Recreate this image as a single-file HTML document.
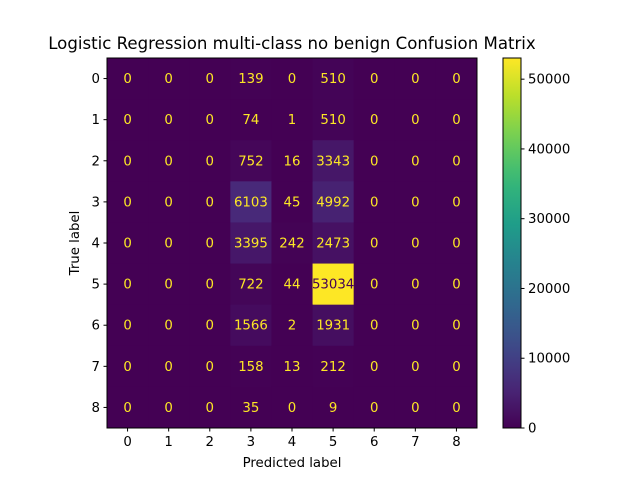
<!DOCTYPE html>
<html><head><meta charset="utf-8"><style>
body{margin:0;background:#fff;}
svg text{font-family:"DejaVu Sans","Liberation Sans",sans-serif;}
</style></head><body>
<svg id="c" width="640" height="480" xmlns="http://www.w3.org/2000/svg">
<defs><linearGradient id="vg" x1="0" y1="1" x2="0" y2="0"></linearGradient></defs>
</svg>
<script>
const labels = ["0","1","2","3","4","5","6","7","8"];
const matrix = [
[0,0,0,139,0,510,0,0,0],
[0,0,0,74,1,510,0,0,0],
[0,0,0,752,16,3343,0,0,0],
[0,0,0,6103,45,4992,0,0,0],
[0,0,0,3395,242,2473,0,0,0],
[0,0,0,722,44,53034,0,0,0],
[0,0,0,1566,2,1931,0,0,0],
[0,0,0,158,13,212,0,0,0],
[0,0,0,35,0,9,0,0,0]
];
const cbTicks = [0,10000,20000,30000,40000,50000];

const NS="http://www.w3.org/2000/svg";
const svg=document.getElementById('c');
function mk(t,a,p){const e=document.createElementNS(NS,t);for(const k in a)e.setAttribute(k,a[k]);(p||svg).appendChild(e);return e;}
const V=[[68,1,84],[72,40,120],[62,74,137],[49,104,142],[38,130,142],[31,158,137],[53,183,121],[110,206,88],[181,222,43],[253,231,37]];
function viridis(t){t=Math.max(0,Math.min(1,t));const f=t*9,i=Math.min(8,Math.floor(f)),r=f-i;const a=V[i],b=V[i+1];return `rgb(${a.map((v,k)=>Math.round(v+(b[k]-v)*r)).join(',')})`;}
const L=107,T=58,W=370,H=370,n=labels.length,cw=W/n,ch=H/n;
let mx=0;matrix.forEach(r=>r.forEach(v=>{if(v>mx)mx=v;}));
const xS=j=>L+cw*(j+0.5), yS=i=>T+ch*(i+0.5);
matrix.forEach((row,i)=>row.forEach((v,j)=>{
  const r=mk('rect',{x:L+cw*j,y:T+ch*i,width:cw+0.5,height:ch+0.5,fill:viridis(v/mx)});
  
  
}));
matrix.forEach((row,i)=>row.forEach((v,j)=>{
  const t=mk('text',{x:xS(j),y:yS(i)+4.5,'text-anchor':'middle','font-size':'13.3',fill:v<mx/2?'#fde725':'#440154'});
  t.textContent=v;
  
  
}));
const fr=mk('rect',{x:L,y:T,width:W,height:H,fill:'none',stroke:'#000','stroke-width':1});


labels.forEach((lb,k)=>{
  mk('line',{x1:xS(k),x2:xS(k),y1:T+H,y2:T+H+3.5,stroke:'#000'});
  const tx=mk('text',{x:xS(k),y:T+H+18,'text-anchor':'middle','font-size':'13.3'});tx.textContent=lb;
  
  
  mk('line',{x1:L-3.5,x2:L,y1:yS(k),y2:yS(k),stroke:'#000'});
  const ty=mk('text',{x:L-7,y:yS(k)+4.5,'text-anchor':'end','font-size':'13.3'});ty.textContent=lb;
  
  
});
const title=mk('text',{x:292,y:49,'text-anchor':'middle','font-size':'16.6'});title.textContent='Logistic Regression multi-class no benign Confusion Matrix';


const xl=mk('text',{x:292,y:467,'text-anchor':'middle','font-size':'13.3'});xl.textContent='Predicted label';


const yl=mk('text',{x:79,y:243,'text-anchor':'middle','font-size':'13.3',transform:'rotate(-90 79 243)'});yl.textContent='True label';


const g=document.getElementById('vg');
for(let k=0;k<=20;k++)mk('stop',{offset:k/20,'stop-color':viridis(k/20)},g);
const CX=503,CW=18;
const cb=mk('rect',{x:CX,y:T,width:CW,height:H,fill:'url(#vg)',stroke:'#000','stroke-width':1});


const cy=v=>T+H-v/mx*H;
cbTicks.forEach(v=>{
  mk('line',{x1:CX+CW,x2:CX+CW+3.5,y1:cy(v),y2:cy(v),stroke:'#000'});
  const t=mk('text',{x:CX+CW+7,y:cy(v)+4.5,'font-size':'13.3'});t.textContent=v;
  
  
});
</script>
</body></html>
